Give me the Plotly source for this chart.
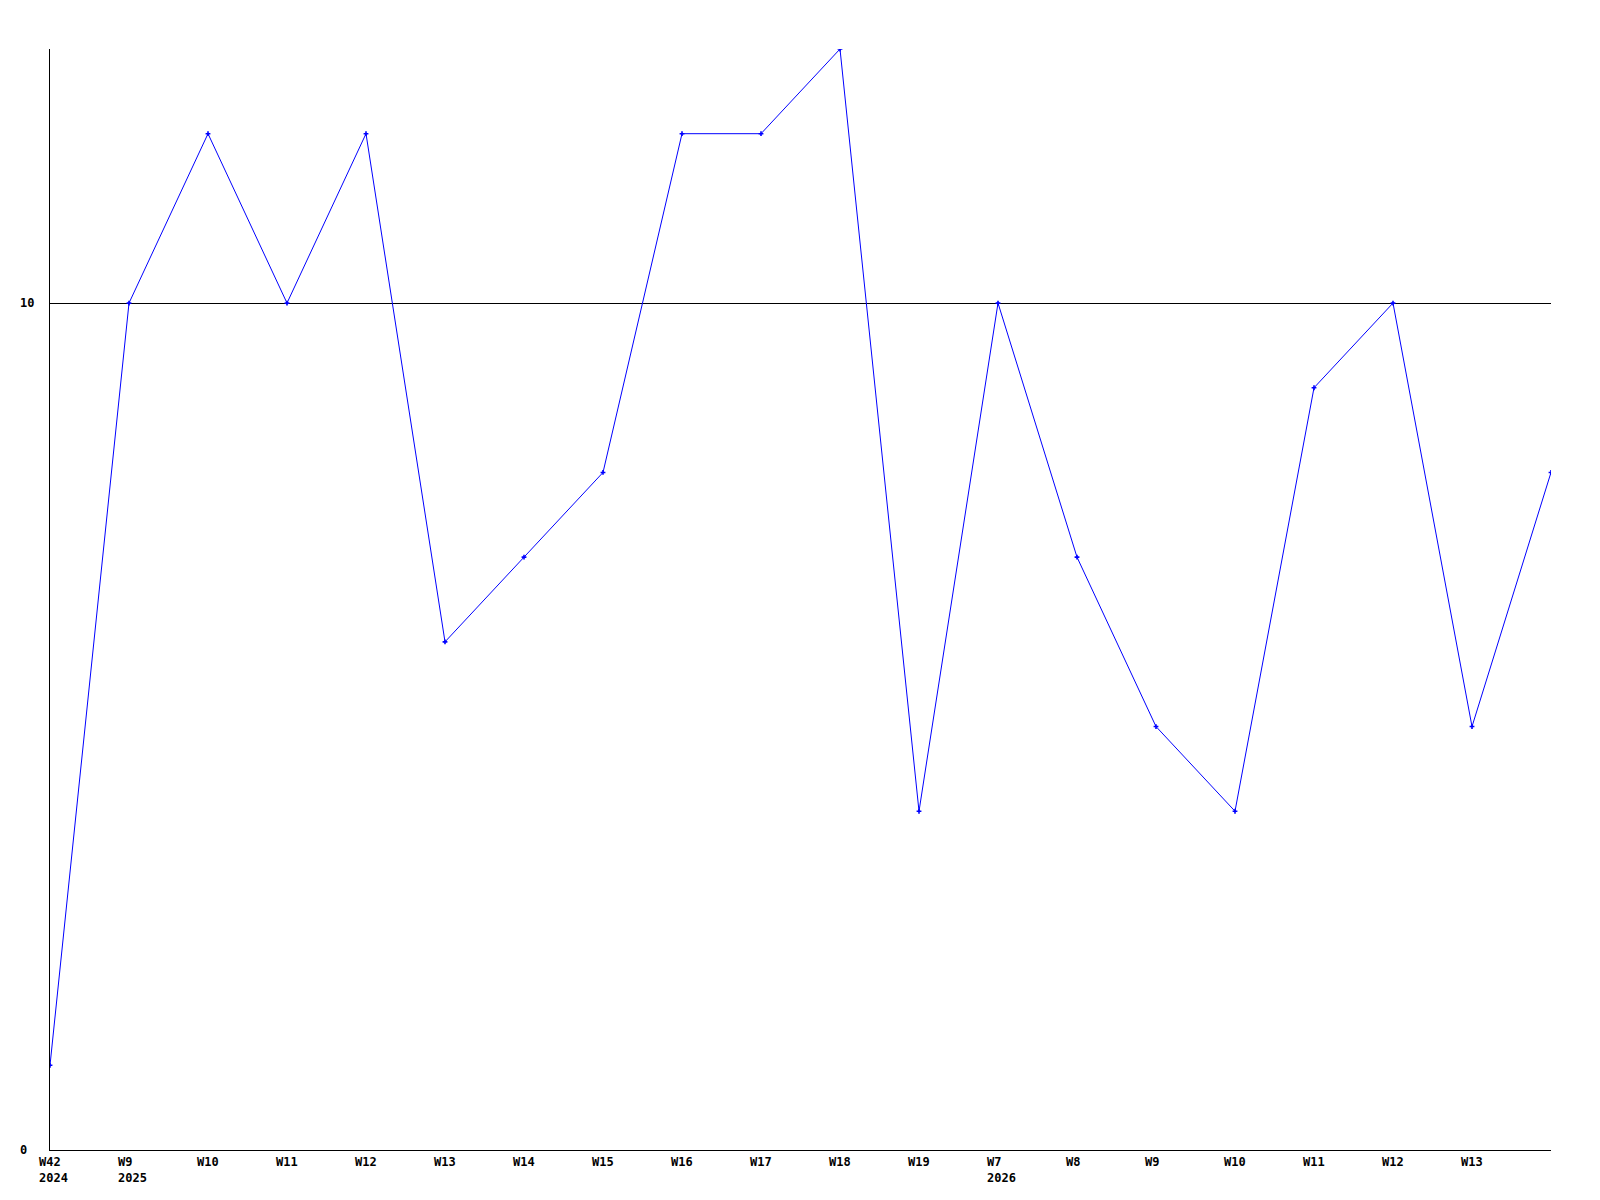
import plotly.graph_objects as go

weeks = ["W42", "W9", "W10", "W11", "W12", "W13", "W14", "W15", "W16", "W17",
         "W18", "W19", "W7", "W8", "W9", "W10", "W11", "W12", "W13", ""]
years = ["2024", "2025", "", "", "", "", "", "", "", "",
         "", "", "2026", "", "", "", "", "", "", ""]
values = [1, 10, 12, 10, 12, 6, 7, 8, 12, 12, 13, 4, 10, 7, 5, 4, 9, 10, 5, 8]
y_ticks = [0, 10]

xs = list(range(len(values)))
font = dict(family="DejaVu Sans Mono", size=12, color="black", weight="bold")

fig = go.Figure()
fig.add_trace(go.Scatter(
    x=xs, y=values, mode="lines+markers",
    line=dict(color="#0000ff", width=1),
    marker=dict(symbol="cross", size=4, color="#0000ff",
                line=dict(color="#0000ff", width=0)),
    hoverinfo="skip", showlegend=False,
))

annotations = []
for i, (w, yr) in enumerate(zip(weeks, years)):
    if not w:
        continue
    txt = w + ("<br>" + yr if yr else "")
    annotations.append(dict(
        x=i, y=0, xref="x", yref="paper", text=txt, showarrow=False,
        xanchor="left", yanchor="top", align="left", xshift=-13, yshift=-3,
        font=font,
    ))
for v in y_ticks:
    annotations.append(dict(
        x=0, y=v, xref="paper", yref="y", text=str(v), showarrow=False,
        xanchor="left", yanchor="middle", xshift=-32, font=font,
    ))

fig.update_layout(
    width=1592, height=1192,
    margin=dict(l=42, r=49, t=41, b=50),
    paper_bgcolor="white", plot_bgcolor="white",
    annotations=annotations,
    xaxis=dict(range=[0, len(values) - 1], showgrid=False, zeroline=False,
               showline=True, linecolor="black", linewidth=1,
               showticklabels=False, ticks=""),
    yaxis=dict(range=[0, 13], tickvals=y_ticks, showgrid=True,
               gridcolor="black", gridwidth=1, zeroline=False,
               showline=True, linecolor="black", linewidth=1,
               showticklabels=False, ticks=""),
)

fig.write_html("out.html")
